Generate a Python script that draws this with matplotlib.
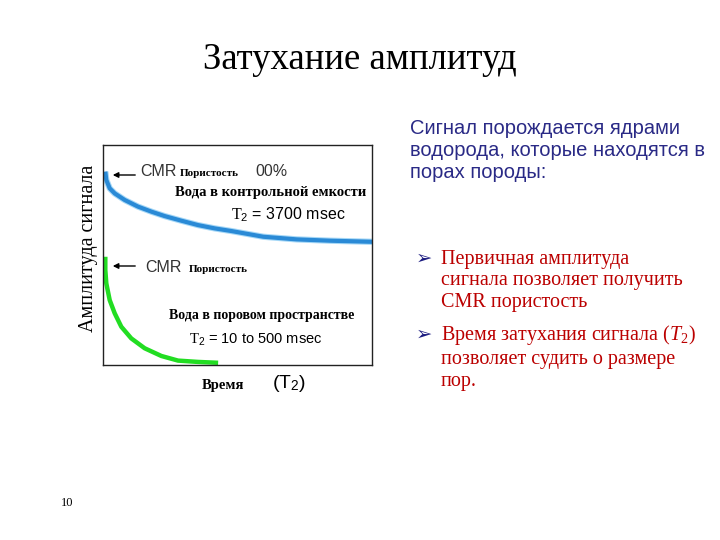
import matplotlib.pyplot as plt

# Кривые затухания (доли осей)
blue_x = [0.0086, 0.0123, 0.0249, 0.0435, 0.0807, 0.130, 0.180, 0.229, 0.291,
          0.353, 0.415, 0.477, 0.596, 0.720, 0.844, 1.0]
blue_y = [0.879, 0.841, 0.803, 0.780, 0.750, 0.720, 0.697, 0.677, 0.656,
          0.636, 0.621, 0.609, 0.583, 0.571, 0.565, 0.560]
green_x = [0.0086, 0.0086, 0.0123, 0.0249, 0.0435, 0.068, 0.105, 0.155, 0.217,
           0.279, 0.353, 0.428]
green_y = [0.492, 0.432, 0.371, 0.295, 0.235, 0.174, 0.121, 0.076, 0.041,
           0.020, 0.014, 0.010]

title = "Затухание амплитуд"
ylabel = "Амплитуда сигнала"
intro = "Сигнал порождается ядрами\nводорода, которые находятся в\nпорах породы:"
bullets = [
    "Первичная амплитуда\nсигнала позволяет получить\nCMR пористость",
    "Время затухания сигнала ($T_2$)\nпозволяет судить о размере\nпор.",
]

plt.rcParams["mathtext.fontset"] = "custom"
plt.rcParams["mathtext.rm"] = "Liberation Serif"
plt.rcParams["mathtext.it"] = "Liberation Serif:italic"
plt.rcParams["mathtext.sf"] = "Liberation Sans"

W, H = 720, 540
fig = plt.figure(figsize=(7.2, 5.4), dpi=100)


def px(x, y):
    return x / W, 1 - y / H


serif = "Liberation Serif"
sans = "Liberation Sans"

ax = fig.add_axes([103 / W, 1 - 365 / H, 269 / W, 220 / H])
ax.plot(blue_x, blue_y, color="#a6d8f7", lw=4.5, solid_capstyle="butt")
ax.plot(blue_x, blue_y, color="#2a8ad6", lw=3, solid_capstyle="butt")
ax.plot(green_x, green_y, color="#22dd22", lw=3.2, solid_capstyle="butt")
ax.set_xlim(0, 1)
ax.set_ylim(0, 1)
ax.set_xticks([])
ax.set_yticks([])
for s in ax.spines.values():
    s.set_linewidth(1)
    s.set_color("#222222")

fig.text(*px(360, 60), title, family=serif, fontsize=26.5, ha="center", va="center")
fig.text(*px(88, 248), ylabel, family=serif, fontsize=14.5, rotation=90,
         ha="center", va="center")
fig.text(*px(67, 503), "10", family=serif, fontsize=9, ha="center", va="center")

# подписи внутри графика
arrow = dict(arrowstyle="-|>", color="black", lw=1, mutation_scale=8)
ax.annotate("", xy=px(110, 175), xytext=px(138, 175), xycoords="figure fraction",
            textcoords="figure fraction", arrowprops=arrow)
fig.text(*px(140, 172), "CMR", family=sans, fontsize=11.5, va="center", color="#333333")
fig.text(*px(180, 174), "Пористость", family=serif, fontsize=8, weight="bold", va="center")
fig.text(*px(255, 172), "00%", family=sans, fontsize=11.5, va="center", color="#333333")
fig.text(*px(175, 192), "Вода в контрольной емкости", family=serif, fontsize=10.5,
         weight="bold", va="center")
fig.text(*px(231, 215), r"$\mathrm{T}_{\mathsf{2}}$ = 3700 msec", family=sans,
         fontsize=11.5, va="center")

ax.annotate("", xy=px(110, 266), xytext=px(138, 266), xycoords="figure fraction",
            textcoords="figure fraction", arrowprops=arrow)
fig.text(*px(145, 267), "CMR", family=sans, fontsize=11.5, va="center", color="#333333")
fig.text(*px(189, 270), "Пористость", family=serif, fontsize=8, weight="bold", va="center")
fig.text(*px(169, 316), "Вода в поровом пространстве", family=serif, fontsize=10,
         weight="bold", va="center")
fig.text(*px(189, 340), r"$\mathrm{T}_{\mathsf{2}}$ = 10 to 500 msec", family=sans,
         fontsize=10.5, va="center")

fig.text(*px(202, 385), "Время", family=serif, fontsize=10.5, weight="bold", va="center")
fig.text(*px(272, 383), "(T$_{\\mathsf{2}}$)", family=sans, fontsize=14, va="center")

# текст справа
fig.text(*px(410, 151), intro, family=sans, fontsize=14.5, color="#2a2a86",
         va="center", linespacing=1.2)
bullet_y = [281, 357]
for y, txt in zip(bullet_y, bullets):
    fig.text(*px(416, y - 23), "➢", family="DejaVu Sans", fontsize=14,
             color="#1a1a80", va="center")
    fig.text(*px(441, y), txt, family=serif, fontsize=14.5, color="#bb0000",
             va="center", linespacing=1.2)

fig.savefig("out.png", dpi=100)
